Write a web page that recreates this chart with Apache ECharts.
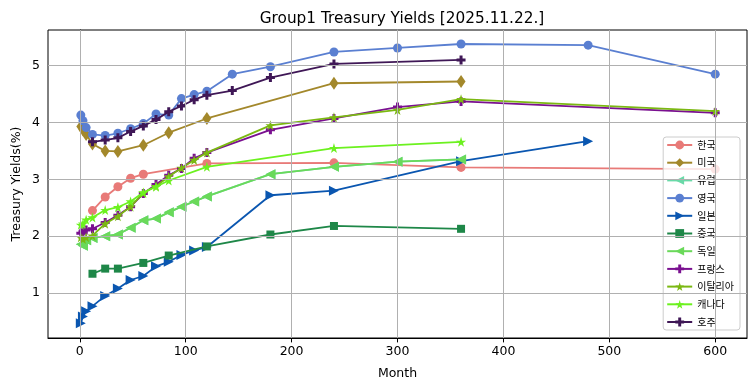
<!DOCTYPE html>
<html><head><meta charset="utf-8">
<script src="https://cdn.jsdelivr.net/npm/echarts@6/dist/echarts.min.js"></script>
<style>html,body{margin:0;padding:0;background:#fff}#c{width:755px;height:391px}</style>
</head><body><div id="c"></div>
<script>
const seriesNames = ['한국','미국','유럽','영국','일본','중국','독일','프랑스','이탈리아','캐나다','호주'];
const xTicks = [0,100,200,300,400,500,600];
const yTicks = [1,2,3,4,5];

const korMonths = [12,24,36,48,60,120,240,360,600];
const korYields = [2.45,2.69,2.87,3.02,3.09,3.28,3.29,3.21,3.18];
const usMonths = [1,3,6,12,24,36,60,84,120,240,360];
const usYields = [3.93,3.87,3.79,3.62,3.50,3.49,3.60,3.82,4.07,4.69,4.72];
const euMonths = [1,3,6,12,24,36,48,60,72,84,96,108,120,180,240,300,360];
const euYields = [1.86,1.83,1.93,1.97,2.00,2.03,2.15,2.28,2.31,2.42,2.52,2.61,2.70,3.09,3.22,3.31,3.35];
const ukMonths = [1,3,6,12,24,36,48,60,72,84,96,108,120,144,180,240,300,360,480,600];
const ukYields = [4.13,4.03,3.91,3.79,3.77,3.81,3.89,3.98,4.15,4.13,4.42,4.49,4.55,4.85,4.98,5.24,5.31,5.38,5.36,4.85];
const jpMonths = [1,3,6,12,24,36,48,60,72,84,96,108,120,180,240,360,480];
const jpYields = [0.47,0.59,0.68,0.77,0.95,1.08,1.23,1.30,1.47,1.55,1.67,1.75,1.81,2.72,2.80,3.32,3.67];
const cnMonths = [12,24,36,60,84,120,180,240,360];
const cnYields = [1.34,1.43,1.43,1.53,1.66,1.82,2.03,2.18,2.13];
const deMonths = [1,3,6,12,24,36,48,60,72,84,96,108,120,180,240,300,360];
const deYields = [1.86,1.83,1.93,1.97,2.00,2.03,2.15,2.28,2.31,2.42,2.52,2.61,2.70,3.09,3.22,3.31,3.35];
const frMonths = [1,3,6,12,24,36,48,60,72,84,96,108,120,180,240,300,360,600];
const frYields = [2.05,2.08,2.11,2.13,2.24,2.37,2.52,2.75,2.91,3.07,3.19,3.37,3.47,3.87,4.07,4.27,4.37,4.17];
const itMonths = [1,3,6,12,24,36,48,60,72,84,96,108,120,180,240,300,360,600];
const itYields = [1.98,1.95,1.98,2.01,2.22,2.35,2.52,2.76,2.88,3.05,3.20,3.34,3.47,3.95,4.09,4.22,4.41,4.20];
const caMonths = [1,3,6,12,24,36,48,60,72,84,120,240,360];
const caYields = [2.20,2.22,2.29,2.33,2.46,2.51,2.61,2.77,2.87,2.98,3.22,3.55,3.66];
const auMonths = [12,24,36,48,60,72,84,96,108,120,144,180,240,360];
const auYields = [3.66,3.69,3.73,3.84,3.94,4.05,4.19,4.29,4.40,4.48,4.56,4.79,5.03,5.10];

const monthsList = [korMonths,usMonths,euMonths,ukMonths,jpMonths,cnMonths,deMonths,frMonths,itMonths,caMonths,auMonths];
const yieldsList = [korYields,usYields,euYields,ukYields,jpYields,cnYields,deYields,frYields,itYields,caYields,auYields];

const colors = ['#E87A78','#A3882B','#6AD9A8','#5A7FD1','#0A56B0','#1E8748','#6AD95A','#7A1090','#7BB812','#6CF11F','#3F1756'];
const PLUS = 'path://M3,0H6V3H9V6H6V9H3V6H0V3H3Z';
const STAR = 'path://M50,0L61,35L98,35L68,57L79,91L50,70L21,91L32,57L2,35L39,35Z';
const symbols = ['circle','diamond','triangle','circle','triangle','rect','triangle',PLUS,STAR,STAR,PLUS];
const rotates = [0,0,90,0,-90,0,90,0,0,0,0];
const sizes = [9,[9,13],10,9,10,8,10,9,10,10,9];

const series = seriesNames.map((name,i)=>({
  name, type:'line',
  data: monthsList[i].map((m,j)=>[m, yieldsList[i][j]]),
  symbol: symbols[i], symbolRotate: rotates[i], symbolSize: sizes[i],
  showAllSymbol: true,
  itemStyle:{color:colors[i]},
  lineStyle:{color:colors[i], width:1.8},
  z: 2+i*0.01
}));
series.unshift({
  name:'grid', type:'line', data:[], silent:true, z:1,
  markLine:{silent:true, symbol:['none','none'], label:{show:false}, animation:false,
    lineStyle:{color:'#b0b0b0', width:1, type:'solid'},
    emphasis:{disabled:true},
    data: xTicks.map(v=>({xAxis:v})).concat(yTicks.map(v=>({yAxis:v})))}
});

const chart = echarts.init(document.getElementById('c'));
const tickFont = {fontFamily:'DejaVu Sans', fontSize:12.5, color:'#000'};
chart.setOption({
  animation:false,
  backgroundColor:'#fff',
  title:{text:'Group1 Treasury Yields [2025.11.22.]', left:397, top:7, textAlign:'center',
    textStyle:{fontFamily:'DejaVu Sans', fontSize:15.3, fontWeight:'normal', color:'#000'}},
  grid:{left:48, right:8, top:30, bottom:53, show:true, borderColor:'#000', borderWidth:1, backgroundColor:'transparent'},
  xAxis:{type:'value', min:-30, max:630, name:'Month', nameLocation:'middle', nameGap:29, nameMoveOverlap:false,
    nameTextStyle:{fontFamily:'DejaVu Sans', fontSize:12.5, color:'#000'},
    axisLine:{show:true, lineStyle:{color:'#000', width:1}},
    axisTick:{show:true, length:4.4, lineStyle:{color:'#000'}, customValues:xTicks},
    axisLabel:Object.assign({customValues:xTicks, margin:7}, tickFont),
    splitLine:{show:false}},
  yAxis:{type:'value', min:0.21, max:5.626, name:'Treasury Yields(%)', nameLocation:'middle', nameGap:25, nameMoveOverlap:false,
    nameTextStyle:{fontFamily:'DejaVu Sans', fontSize:12.5, color:'#000'},
    axisLine:{show:true, lineStyle:{color:'#000', width:1}},
    axisTick:{show:true, length:4.4, lineStyle:{color:'#000'}, customValues:yTicks},
    axisLabel:Object.assign({customValues:yTicks, margin:8}, tickFont),
    splitLine:{show:false}},
  legend:{data:seriesNames, orient:'vertical', right:15, top:137, itemWidth:25, itemHeight:11, itemGap:7.7,
    padding:[3,6,3,3], backgroundColor:'rgba(255,255,255,0.8)', borderColor:'#cccccc', borderWidth:1, borderRadius:3,
    textStyle:{fontFamily:'Noto Sans CJK KR', fontSize:10, color:'#000'}, inactiveColor:'#ccc'},
  series
});
</script></body></html>
